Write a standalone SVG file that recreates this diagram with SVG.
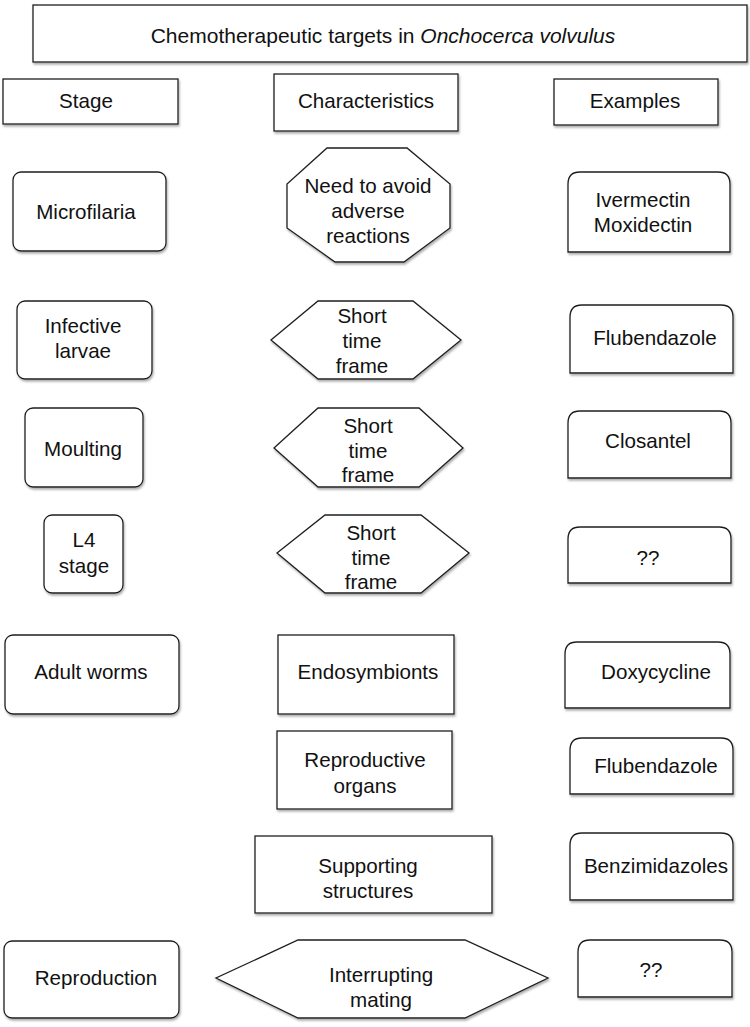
<svg xmlns="http://www.w3.org/2000/svg" width="750" height="1027" viewBox="0 0 750 1027">
<defs>
<filter id="sh" x="-10%" y="-10%" width="125%" height="130%">
<feDropShadow dx="1" dy="2" stdDeviation="1.2" flood-color="#777" flood-opacity="0.6"/>
</filter>
<style>
.b{fill:#fff;stroke:#1e1e1e;stroke-width:1.3;filter:url(#sh)}
text{font-family:"Liberation Sans",Arial,Helvetica,sans-serif;font-size:20.6px;fill:#111;text-anchor:middle}
.t{font-size:21px}
</style>
</defs>
<rect width="750" height="1027" fill="#fff"/>

<g id="title"><rect class="b" x="33" y="5" width="714" height="57"/>
<text class="t" x="383" y="43">Chemotherapeutic targets in <tspan font-style="italic">Onchocerca volvulus</tspan></text></g>

<g id="stage"><rect class="b" x="3" y="79" width="175" height="45"/><text x="86" y="108">Stage</text></g>
<g id="characteristics"><rect class="b" x="274" y="74" width="184" height="57"/><text x="366" y="108">Characteristics</text></g>
<g id="examples"><rect class="b" x="554" y="79" width="164" height="46"/><text x="635" y="108">Examples</text></g>

<g id="microfilaria"><rect class="b" x="13" y="172" width="153" height="79" rx="8"/><text x="86" y="219">Microfilaria</text></g>
<g id="avoid"><polygon class="b" points="327,148 407,148 450,184 450,228 404,262 335,262 287,228 287,184"/>
<text x="368" y="193">Need to avoid</text><text x="368" y="218">adverse</text><text x="368" y="243">reactions</text></g>
<g id="ivermectin"><path class="b" d="M568,252 L568,184 Q568,172 580,172 L718,172 Q730,172 730,184 L730,252 Z"/>
<text x="643" y="207">Ivermectin</text><text x="643" y="232">Moxidectin</text></g>

<g id="infective"><rect class="b" x="17" y="301" width="135" height="78" rx="8"/><text x="83" y="333">Infective</text><text x="83" y="358">larvae</text></g>
<g id="short1"><polygon class="b" points="318,301 413,301 461,340 413,379 318,379 271,340"/>
<text x="362" y="323">Short</text><text x="362" y="348">time</text><text x="362" y="373">frame</text></g>
<g id="flubendazole1"><path class="b" d="M570,373 L570,317 Q570,305 582,305 L721,305 Q733,305 733,317 L733,373 Z"/><text x="655" y="345">Flubendazole</text></g>

<g id="moulting"><rect class="b" x="25" y="408" width="118" height="79" rx="8"/><text x="83" y="456">Moulting</text></g>
<g id="short2"><polygon class="b" points="318,408 419,408 463,448 419,487 318,487 274,448"/>
<text x="368" y="433">Short</text><text x="368" y="458">time</text><text x="368" y="482">frame</text></g>
<g id="closantel"><path class="b" d="M568,478 L568,423 Q568,411 580,411 L719,411 Q731,411 731,423 L731,478 Z"/><text x="648" y="448">Closantel</text></g>

<g id="l4"><rect class="b" x="44" y="515" width="79" height="78" rx="8"/><text x="84" y="547">L4</text><text x="84" y="573">stage</text></g>
<g id="short3"><polygon class="b" points="325,515 421,515 469,553 421,593 325,593 277,553"/>
<text x="371" y="540">Short</text><text x="371" y="565">time</text><text x="371" y="589">frame</text></g>
<g id="unknown1"><path class="b" d="M568,583 L568,539 Q568,527 580,527 L719,527 Q731,527 731,539 L731,583 Z"/><text x="648" y="565">??</text></g>

<g id="adult"><rect class="b" x="5" y="635" width="174" height="79" rx="8"/><text x="91" y="679">Adult worms</text></g>
<g id="endosymbionts"><rect class="b" x="278" y="635" width="176" height="79"/><text x="368" y="679">Endosymbionts</text></g>
<g id="doxycycline"><path class="b" d="M565,708 L565,654 Q565,642 577,642 L718,642 Q730,642 730,654 L730,708 Z"/><text x="656" y="679">Doxycycline</text></g>

<g id="reproductive"><rect class="b" x="277" y="731" width="175" height="78"/><text x="365" y="767">Reproductive</text><text x="365" y="793">organs</text></g>
<g id="flubendazole2"><path class="b" d="M570,794 L570,750 Q570,738 582,738 L721,738 Q733,738 733,750 L733,794 Z"/><text x="656" y="773">Flubendazole</text></g>

<g id="supporting"><rect class="b" x="255" y="836" width="237" height="77"/><text x="368" y="873">Supporting</text><text x="368" y="898">structures</text></g>
<g id="benzimidazoles"><path class="b" d="M570,900 L570,845 Q570,833 582,833 L721,833 Q733,833 733,845 L733,900 Z"/><text x="656" y="873">Benzimidazoles</text></g>

<g id="reproduction"><rect class="b" x="4" y="941" width="175" height="77" rx="8"/><text x="96" y="985">Reproduction</text></g>
<g id="mating"><polygon class="b" points="298,940 465,940 548,978 465,1018 298,1018 216,978"/>
<text x="381" y="982">Interrupting</text><text x="381" y="1007">mating</text></g>
<g id="unknown2"><path class="b" d="M578,997 L578,952 Q578,940 590,940 L720,940 Q732,940 732,952 L732,997 Z"/><text x="651" y="977">??</text></g>
</svg>
